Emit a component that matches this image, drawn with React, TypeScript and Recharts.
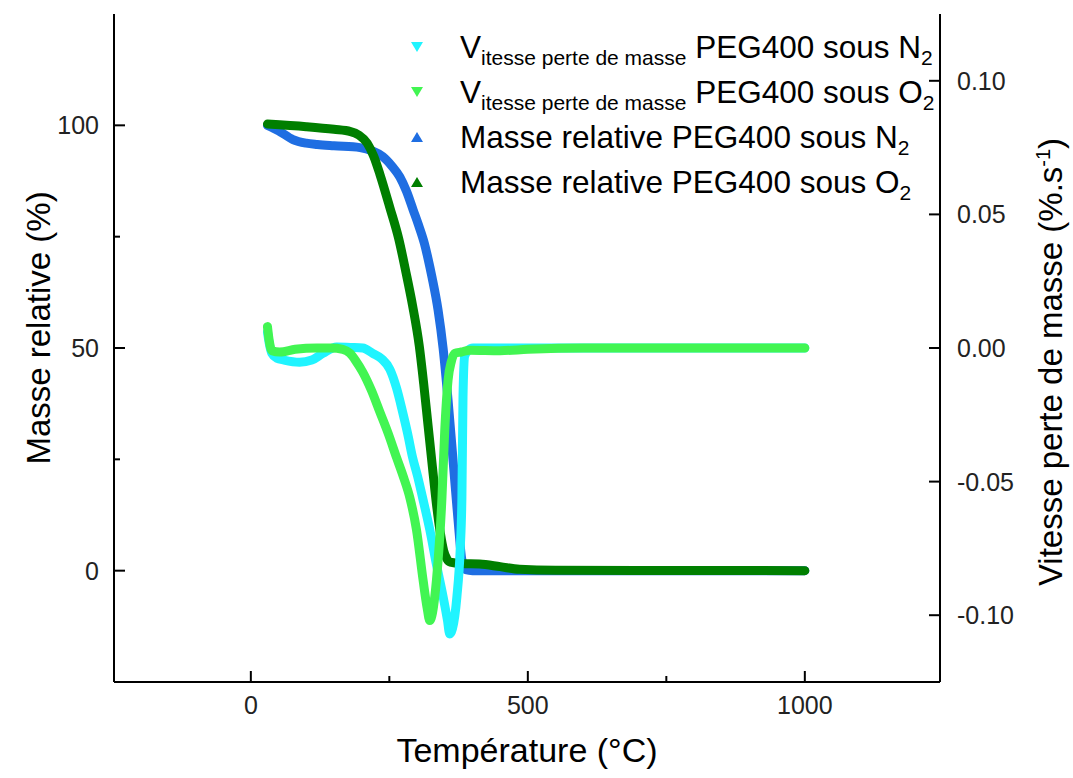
import React from "react";
import { ComposedChart, Line, XAxis, YAxis, Legend } from "recharts";

const FONT = "'Liberation Sans', Arial, Helvetica, sans-serif";

// masse relative sous N2 (%)
const massN2Temp = [30, 50, 76, 100, 120, 150, 197, 220, 238, 255, 269, 281, 293, 303, 313, 320, 327, 338, 347, 356, 365, 374, 381, 388, 400, 500, 700, 1000];
const massN2 = [100, 98.8, 96.8, 96, 95.7, 95.4, 95, 94.2, 93, 90.8, 88.4, 85.2, 81, 77.5, 73.6, 70, 65.9, 58.5, 50, 38.3, 24.8, 11.4, 2.4, 0.2, 0, 0, 0, 0];

// masse relative sous O2 (%)
const massO2Temp = [30, 100, 150, 180, 195, 210, 222, 233, 251, 267, 280, 292, 304, 312, 320, 328, 335, 342, 348, 354, 360, 380, 413, 450, 485, 550, 1000];
const massO2 = [100.3, 99.7, 99.1, 98.6, 97.8, 96, 93, 89, 81.5, 74.5, 67, 59.5, 50.5, 42, 32.5, 23, 15, 8.5, 4.5, 2.6, 1.9, 1.6, 1.5, 0.9, 0.3, 0.1, 0];

// vitesse perte de masse sous N2 (%.s-1)
const rateN2Temp = [30, 33, 38, 47, 60, 88, 110, 130, 155, 180, 202, 220, 236, 251, 263, 274, 283, 292, 301, 310, 323, 335, 347, 355, 359, 364, 372, 378, 381, 383, 386, 392, 401, 450, 600, 800, 1000];
const rateN2 = [0.006, 0.002, -0.002, -0.0038, -0.0045, -0.0053, -0.0045, -0.002, 0.0004, 0.0002, 0, -0.002, -0.004, -0.008, -0.015, -0.024, -0.032, -0.041, -0.048, -0.056, -0.068, -0.081, -0.093, -0.102, -0.107, -0.105, -0.093, -0.075, -0.056, -0.018, -0.003, -0.001, 0, 0, 0, 0, 0];

// vitesse perte de masse sous O2 (%.s-1)
const rateO2Temp = [30, 33, 38, 52, 80, 119, 145, 166, 179, 190, 202, 218, 233, 248, 263, 275, 287, 299, 311, 318, 323, 328, 335, 345, 350, 356, 362, 368, 380, 395, 450, 500, 600, 1000];
const rateO2 = [0.008, 0.003, -0.001, -0.0015, -0.0005, 0, 0, -0.0005, -0.002, -0.005, -0.009, -0.016, -0.024, -0.032, -0.041, -0.048, -0.056, -0.068, -0.087, -0.097, -0.102, -0.099, -0.087, -0.056, -0.031, -0.012, -0.005, -0.002, -0.0015, -0.0008, -0.001, -0.0005, 0, 0];

const xTicks = [0, 250, 500, 750, 1000];
const massTicks = [0, 25, 50, 75, 100];
const rateTicks = [-0.1, -0.05, 0, 0.05, 0.1];

const zip = (ts: number[], vs: number[]) => ts.map((t, i) => ({ t, v: vs[i] }));

// draw order: masses first, velocities on top
const series = [
  { key: "massN2", data: zip(massN2Temp, massN2), color: "#1f6ee2", axis: "mass", down: false, main: "Masse relative PEG400 sous N", sub: "", rest: "", gas: "2" },
  { key: "massO2", data: zip(massO2Temp, massO2), color: "#007f00", axis: "mass", down: false, main: "Masse relative PEG400 sous O", sub: "", rest: "", gas: "2" },
  { key: "rateN2", data: zip(rateN2Temp, rateN2), color: "#20f4ff", axis: "rate", down: true, main: "V", sub: "itesse perte de masse", rest: " PEG400 sous N", gas: "2" },
  { key: "rateO2", data: zip(rateO2Temp, rateO2), color: "#42f552", axis: "rate", down: true, main: "V", sub: "itesse perte de masse", rest: " PEG400 sous O", gas: "2" },
];
const legendOrder = ["rateN2", "rateO2", "massN2", "massO2"];

const BottomTick = ({ x, y, payload }: any) => {
  const major = payload.value % 500 === 0;
  return (
    <g>
      <line x1={x} x2={x} y1={y} y2={y - (major ? 11 : 6)} stroke="#000" strokeWidth={2} />
      {major && (
        <text x={x} y={y + 32} textAnchor="middle" fontSize={25} fontFamily={FONT} fill="#222">
          {payload.value}
        </text>
      )}
    </g>
  );
};

const LeftTick = ({ x, y, payload }: any) => {
  const major = payload.value % 50 === 0;
  return (
    <g>
      <line x1={x} x2={x + (major ? 11 : 6)} y1={y} y2={y} stroke="#000" strokeWidth={2} />
      {major && (
        <text x={x - 15} y={y + 9} textAnchor="end" fontSize={25} fontFamily={FONT} fill="#222">
          {payload.value}
        </text>
      )}
    </g>
  );
};

const RightTick = ({ x, y, payload }: any) => (
  <g>
    <line x1={x} x2={x - 11} y1={y} y2={y} stroke="#000" strokeWidth={2} />
    <text x={x + 17} y={y + 9} textAnchor="start" fontSize={25} fontFamily={FONT} fill="#222">
      {payload.value.toFixed(2)}
    </text>
  </g>
);

const XTitle = (p: any) => {
  const vb = p && p.viewBox && p.viewBox.width ? p.viewBox : { x: 114, y: 682, width: 826, height: 96 };
  return (
    <text x={vb.x + vb.width / 2} y={vb.y + 80} textAnchor="middle" fontSize={34} fontFamily={FONT} fill="#000">
      Température (°C)
    </text>
  );
};

const LeftTitle = () => (
  <text x={38} y={328} transform="rotate(-90, 38, 328)" dy="0.35em" textAnchor="middle" fontSize={33} fontFamily={FONT} fill="#000">
    Masse relative (%)
  </text>
);

const RightTitle = () => (
  <text x={1050} y={362} transform="rotate(-90, 1050, 362)" dy="0.35em" textAnchor="middle" fontSize={33} fontFamily={FONT} fill="#000">
    Vitesse perte de masse (%.s
    <tspan dy={-12} fontSize={20}>-1</tspan>
    <tspan dy={12}>)</tspan>
  </text>
);

const LegendBox = () => (
  <div style={{ fontFamily: FONT, color: "#000" }}>
    {legendOrder.map((k) => {
      const s: any = series.find((d) => d.key === k);
      return (
        <div key={k} style={{ display: "flex", alignItems: "center", height: 45, whiteSpace: "nowrap" }}>
          <svg width={63} height={20} style={{ flex: "none" }}>
            <polygon points={s.down ? "14,5 26,5 20,15" : "14,15 26,15 20,5"} fill={s.color} />
          </svg>
          <span style={{ fontSize: 31.5, lineHeight: "30px" }}>
            {s.main}
            {s.sub && <sub style={{ fontSize: 21, lineHeight: 0 }}>{s.sub}</sub>}
            {s.rest}
            <sub style={{ fontSize: 21, lineHeight: 0 }}>{s.gas}</sub>
          </span>
        </div>
      );
    })}
  </div>
);

export default function App() {
  return (
    <div style={{ position: "absolute", left: 0, top: 0, background: "#fff", fontFamily: FONT }}>
      <ComposedChart width={1073} height={778} margin={{ top: 14, right: 0, bottom: 0, left: 0 }}>
        <XAxis
          xAxisId="b"
          type="number"
          dataKey="t"
          domain={[-247, 1244]}
          ticks={xTicks}
          allowDataOverflow
          height={96}
          tickSize={0}
          tickMargin={0}
          tickLine={false}
          tick={<BottomTick />}
          axisLine={{ stroke: "#000", strokeWidth: 2 }}
          label={<XTitle />}
        />
        <XAxis
          xAxisId="top"
          orientation="top"
          type="number"
          domain={[-247, 1244]}
          height={0}
          tick={false}
          tickLine={false}
          axisLine={{ stroke: "#000", strokeWidth: 2 }}
        />
        <YAxis
          yAxisId="mass"
          type="number"
          domain={[-25, 125]}
          ticks={massTicks}
          allowDataOverflow
          width={114}
          tickSize={0}
          tickMargin={0}
          tickLine={false}
          tick={<LeftTick />}
          axisLine={{ stroke: "#000", strokeWidth: 2 }}
          label={<LeftTitle />}
        />
        <YAxis
          yAxisId="rate"
          orientation="right"
          type="number"
          domain={[-0.125, 0.125]}
          ticks={rateTicks}
          allowDataOverflow
          width={133}
          tickSize={0}
          tickMargin={0}
          tickLine={false}
          tick={<RightTick />}
          axisLine={{ stroke: "#000", strokeWidth: 2 }}
          label={<RightTitle />}
        />
        {series.map((s) => (
          <Line
            key={s.key}
            xAxisId="b"
            yAxisId={s.axis}
            data={s.data}
            dataKey="v"
            name={s.key}
            type="monotone"
            stroke={s.color}
            strokeWidth={9}
            strokeLinecap="round"
            strokeLinejoin="round"
            dot={false}
            activeDot={false}
            isAnimationActive={false}
          />
        ))}
        <Legend
          layout="horizontal"
          verticalAlign="middle"
          align="center"
          content={<LegendBox />}
          wrapperStyle={{ top: 24, left: 397, width: "auto", height: "auto" }}
        />
      </ComposedChart>
    </div>
  );
}
